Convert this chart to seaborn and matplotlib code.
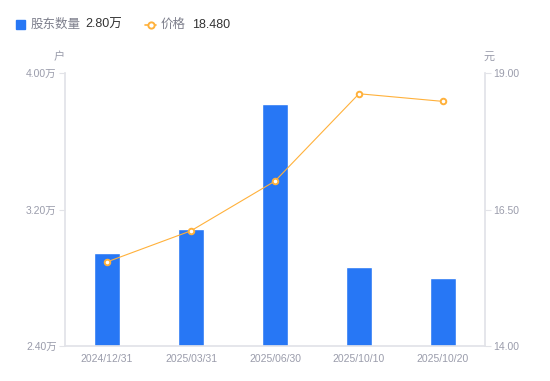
import matplotlib
matplotlib.use("Agg")
import matplotlib.pyplot as plt
import seaborn as sns
import pandas as pd
from matplotlib.patches import Rectangle
from matplotlib.lines import Line2D

dates = ["2024/12/31", "2025/03/31", "2025/06/30", "2025/10/10", "2025/10/20"]
holders = [2.945, 3.087, 3.818, 2.863, 2.80]   # 万户
prices = [15.54, 16.11, 17.02, 18.62, 18.48]
left_ticks = [2.40, 3.20, 4.00]
right_ticks = [14.00, 16.50, 19.00]

df = pd.DataFrame({"date": dates, "holders": holders, "price": prices})

sns.set_theme(style="white")
plt.rcParams['font.family'] = ['Liberation Sans', 'Noto Sans CJK SC', 'DejaVu Sans']

BLUE = "#2777F5"
ORANGE = "#FFB13B"
TICK = "#9a9cab"
SPINE = "#e2e3e8"

fig = plt.figure(figsize=(5.5, 3.81), dpi=100)
ax = fig.add_axes([65/550, 1-346/381, 420/550, (346-73)/381])

sns.barplot(data=df, x="date", y="holders", color=BLUE, width=0.3,
            saturation=1, ax=ax, zorder=2)
ax.set_ylim(2.40, 4.00)
ax.set_yticks(left_ticks)
ax.set_yticklabels([f"{v:.2f}万" for v in left_ticks])
ax.set_xlabel("")
ax.set_ylabel("")

ax2 = ax.twinx()
sns.pointplot(data=df, x="date", y="price", color=ORANGE, ax=ax2,
              markers="o", linewidth=0.8, markersize=4,
              markerfacecolor="white", markeredgewidth=1.4,
              markeredgecolor=ORANGE, zorder=3)
ax2.set_ylim(14.0, 19.0)
ax2.set_yticks(right_ticks)
ax2.set_yticklabels([f"{v:.2f}" for v in right_ticks])
ax2.set_ylabel("")
ax2.set_xlabel("")
ax.set_xlim(-0.5, 4.5)

for a in (ax, ax2):
    for s in a.spines.values():
        s.set_visible(False)
    a.tick_params(colors=SPINE, labelcolor=TICK, labelsize=7.5, length=4, width=0.8)
    a.grid(False)
ax.spines["left"].set_visible(True)
ax.spines["left"].set_color(SPINE)
ax.spines["bottom"].set_visible(True)
ax.spines["bottom"].set_color(SPINE)
ax2.spines["right"].set_visible(True)
ax2.spines["right"].set_color(SPINE)
ax.tick_params(axis="x", length=0, pad=6)
ax.tick_params(axis="y", left=True, pad=2)
ax2.tick_params(axis="y", right=True, pad=2)
ax.set_zorder(1)
ax2.set_zorder(2)
ax.patch.set_visible(False)

# unit labels
fig.text(59/550, 1-57/381, "户", color=TICK, fontsize=8, ha="center", va="center")
fig.text(489/550, 1-57/381, "元", color=TICK, fontsize=8, ha="center", va="center")

# legend
ly = 1-24.5/381
fig.patches.append(Rectangle((16/550, 1-29/381), 9/550, 9/381, transform=fig.transFigure,
                             color=BLUE, figure=fig))
fig.text(31/550, ly, "股东数量", color="#7d7f8c", fontsize=9, va="center")
fig.text(85/550, ly, f"{holders[-1]:.2f}万", color="#333333", fontsize=9, va="center")
fig.lines.append(Line2D([145/550, 156/550], [ly, ly], transform=fig.transFigure,
                        color=ORANGE, lw=1.2, figure=fig))
fig.lines.append(Line2D([150.5/550], [ly], transform=fig.transFigure, color=ORANGE,
                        marker="o", markersize=4.5, markerfacecolor="white",
                        markeredgewidth=1.4, figure=fig))
fig.text(161/550, ly, "价格", color="#7d7f8c", fontsize=9, va="center")
fig.text(192/550, ly, f"{prices[-1]:.3f}", color="#333333", fontsize=9, va="center")

fig.savefig("out.png", dpi=100)
